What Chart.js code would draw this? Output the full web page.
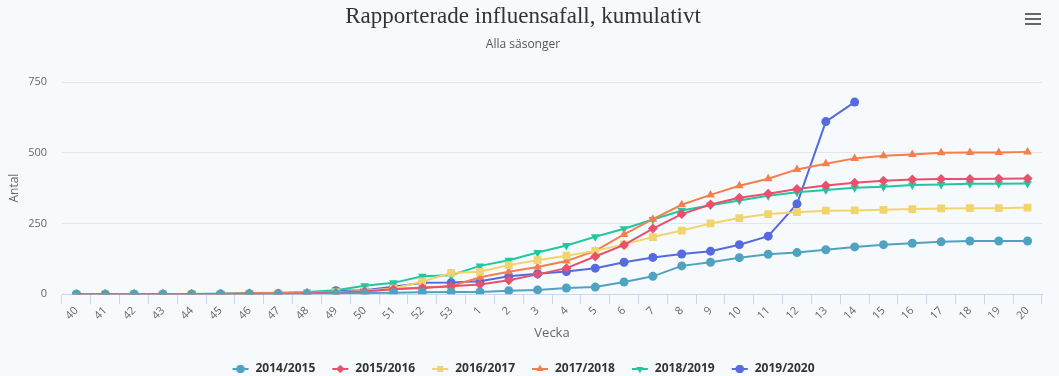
<!DOCTYPE html>
<html>
<head>
<meta charset="utf-8">
<script src="https://cdn.jsdelivr.net/npm/chart.js@4/dist/chart.umd.min.js"></script>
<style>
  html, body { margin: 0; padding: 0; background: #f7fafc; }
  #wrap { width: 1059px; height: 376px; position: relative; }
</style>
</head>
<body>
<div id="wrap"><canvas id="chart" width="1059" height="376"></canvas></div>
<script>
const weeks = ["40","41","42","43","44","45","46","47","48","49","50","51","52","53",
  "1","2","3","4","5","6","7","8","9","10","11","12","13","14","15","16","17","18","19","20"];
const seasons = ["2014/2015","2015/2016","2016/2017","2017/2018","2018/2019","2019/2020"];

const s2014 = [0,0,0,0,0,0,1,1,1,2,4,5,7,8, 8,12,15,22,25,43,63,100,113,129,141,147,157,167,175,180,185,188,188,188];
const s2015 = [0,0,0,1,1,1,2,2,3,5,10,17,22,28, 34,49,70,92,133,174,232,283,317,341,355,372,384,394,401,405,407,407,408,409];
const s2016 = [0,0,0,0,1,1,2,3,4,6,12,20,45,75, 79,103,120,136,153,176,202,225,250,269,283,290,295,296,298,301,303,304,304,306];
const s2017 = [0,0,0,0,1,1,2,2,3,5,9,18,24,28, 60,79,96,117,153,211,265,316,351,383,408,441,461,480,489,494,500,501,501,503];
const s2018 = [0,0,0,1,1,2,4,5,8,14,30,40,63,67, 100,120,147,172,203,231,264,296,314,331,348,360,368,376,380,386,388,390,390,391];
const s2019 = [0,0,0,0,0,1,1,2,3,12,14,26,40,41, 46,63,72,80,92,113,130,142,152,175,205,319,610,679,null,null,null,null,null,null];

const yTicks = [0, 250, 500, 750];

const colors = ["#50a3c0", "#e8506c", "#f2d46c", "#f47f4e", "#22c79f", "#5669e0"];
const shapes = ["circle", "rectRot", "rect", "triangle", "triangle", "circle"];
const rotations = [0, 0, 0, 0, 180, 0];
const radii = [4.5, 5, 5.5, 5, 5, 4.5];
const seriesData = [s2014, s2015, s2016, s2017, s2018, s2019];

// small legend symbol: line with marker
function legendSymbol(i) {
  const c = document.createElement("canvas");
  c.width = 18; c.height = 12;
  const g = c.getContext("2d");
  g.strokeStyle = colors[i];
  g.fillStyle = colors[i];
  g.lineWidth = 2;
  g.beginPath(); g.moveTo(1, 6); g.lineTo(17, 6); g.stroke();
  Chart.helpers.drawPoint(g, {pointStyle: shapes[i], rotation: rotations[i], radius: 4, borderWidth: 0}, 9, 6);
  g.fill();
  return c;
}

const menuIcon = {
  id: "menuIcon",
  afterDraw(chart) {
    const ctx = chart.ctx;
    ctx.save();
    ctx.strokeStyle = "#666";
    ctx.lineWidth = 2;
    [14, 19, 24].forEach(y => {
      ctx.beginPath(); ctx.moveTo(1025, y); ctx.lineTo(1041, y); ctx.stroke();
    });
    ctx.restore();
  }
};

const bgFill = {
  id: "bgFill",
  beforeDraw(chart) {
    const ctx = chart.ctx;
    ctx.save();
    ctx.fillStyle = "#f7fafc";
    ctx.fillRect(0, 0, chart.width, chart.height);
    ctx.restore();
  }
};

const datasets = seasons.map((name, i) => ({
  label: name,
  data: seriesData[i],
  borderColor: colors[i],
  backgroundColor: colors[i],
  borderWidth: 2,
  pointStyle: shapes[i],
  pointRotation: rotations[i],
  pointRadius: radii[i],
  pointBorderWidth: 0,
  pointHoverRadius: radii[i],
  tension: 0,
  fill: false,
  spanGaps: false
}));

new Chart(document.getElementById("chart"), {
  type: "line",
  data: { labels: weeks, datasets },
  plugins: [bgFill, menuIcon],
  options: {
    responsive: false,
    animation: false,
    layout: { padding: { left: 4, right: 17, top: 0, bottom: -9 } },
    plugins: {
      title: {
        display: true,
        text: "Rapporterade influensafall, kumulativt",
        color: "#333",
        font: { family: "Liberation Serif", size: 23, weight: "normal" },
        padding: { top: 3, bottom: 7 }
      },
      subtitle: {
        display: true,
        text: "Alla säsonger",
        color: "#555",
        font: { family: "Open Sans", size: 12 },
        padding: { top: 0, bottom: 30 }
      },
      legend: {
        position: "bottom",
        labels: {
          usePointStyle: true,
          pointStyleWidth: 18,
          color: "#333",
          font: { family: "Open Sans", size: 12, weight: "bold" },
          padding: 16,
          generateLabels(chart) {
            return seasons.map((name, i) => ({
              text: name,
              pointStyle: legendSymbol(i),
              fillStyle: colors[i],
              strokeStyle: colors[i],
              lineWidth: 0,
              hidden: false,
              datasetIndex: i,
              fontColor: "#333"
            }));
          }
        }
      },
      tooltip: { enabled: false }
    },
    scales: {
      x: {
        offset: true,
        grid: {
          offset: true,
          drawOnChartArea: false,
          drawTicks: true,
          tickLength: 10,
          color: "#ccd6eb"
        },
        border: { color: "#ccd6eb", width: 1 },
        ticks: {
          autoSkip: false,
          minRotation: 45,
          maxRotation: 45,
          color: "#666",
          font: { family: "Open Sans", size: 11 },
          padding: 0
        },
        title: {
          display: true,
          text: "Vecka",
          color: "#666",
          font: { family: "Open Sans", size: 13 },
          padding: { top: 3, bottom: 6 }
        }
      },
      y: {
        min: 0,
        max: 750,
        afterBuildTicks(scale) { scale.ticks = yTicks.map(v => ({ value: v })); },
        afterFit(scale) { scale.width = 58; },
        grid: { color: "#e6e6e6", drawTicks: false },
        border: { display: false },
        ticks: {
          color: "#666",
          font: { family: "Open Sans", size: 11 },
          padding: 15
        },
        title: {
          display: true,
          text: "Antal",
          color: "#666",
          font: { family: "Open Sans", size: 12 },
          padding: { top: 3, bottom: 3 }
        }
      }
    }
  }
});
</script>
</body>
</html>
